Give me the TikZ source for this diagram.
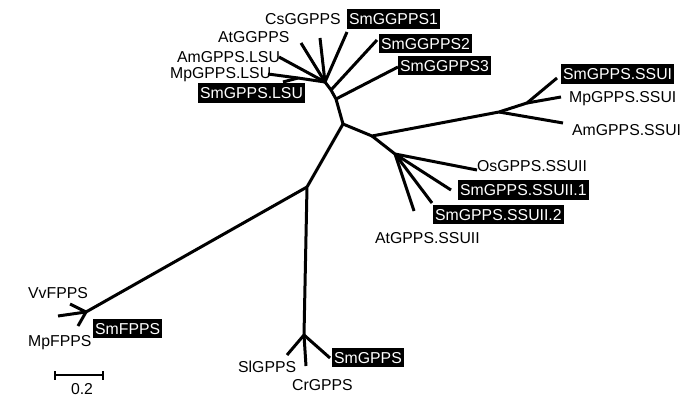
\documentclass[tikz,border=0pt]{standalone}
\usepackage{fontspec}
\setmainfont{Liberation Sans}
\begin{document}
\begin{tikzpicture}[x=1pt,y=-1pt,
  br/.style={line width=3pt,line join=round},
  lab/.style={anchor=west,inner sep=0pt,font=\fontsize{15.8}{16}\selectfont,text height=11.3pt,text depth=0pt},
  hl/.style={lab,fill=black,text=white,inner xsep=2pt,inner ysep=4.3pt}]
\useasboundingbox (0,0) rectangle (694,396);
% internal nodes
\coordinate (A) at (343,124);
\coordinate (n1) at (336,99);
\coordinate (n2) at (331,90);
\coordinate (n3) at (325,82);
\coordinate (sub) at (298,78);
\coordinate (D) at (372,136);
\coordinate (E) at (499,112);
\coordinate (F) at (527,103);
\coordinate (G) at (395,154);
\coordinate (B) at (307,187);
\coordinate (C) at (304,335);
\coordinate (H) at (86,312);
% leaves
\coordinate (lAt) at (301,43);
\coordinate (lCs) at (320,38);
\coordinate (lSm1) at (347,32);
\coordinate (lSm2) at (377,40);
\coordinate (lSm3) at (398,67);
\coordinate (lAm) at (279,57);
\coordinate (lMp) at (268,74);
\coordinate (lSmL) at (283,82);
\coordinate (lSmI) at (557,78);
\coordinate (lMpI) at (561,97);
\coordinate (lAmI) at (563,123);
\coordinate (lOs) at (477,170);
\coordinate (lS1) at (451,190);
\coordinate (lS2) at (432,203);
\coordinate (lAtII) at (414,211);
\coordinate (lSl) at (287,355);
\coordinate (lCr) at (306,366);
\coordinate (lSmG) at (330,358);
\coordinate (lF1) at (58,316);
\coordinate (lF2) at (70,304);
\coordinate (lF3) at (78,326);
% branches
\draw[br] (A) -- (n1) -- (n2) -- (n3);
\draw[br] (n1) -- (lSm3);
\draw[br] (n2) -- (lSm2);
\draw[br] (n3) -- (lSm1);
\draw[br] (n3) -- (lCs);
\draw[br] (n3) -- (lAt);
\draw[br] (n3) -- (lAm);
\draw[br] (n3) -- (sub) -- (lMp);
\draw[br] (sub) -- (lSmL);
\draw[br] (A) -- (D) -- (E) -- (F) -- (lSmI);
\draw[br] (F) -- (lMpI);
\draw[br] (E) -- (lAmI);
\draw[br] (D) -- (G) -- (lOs);
\draw[br] (G) -- (lS1);
\draw[br] (G) -- (lS2);
\draw[br] (G) -- (lAtII);
\draw[br] (A) -- (B) -- (C) -- (lSl);
\draw[br] (C) -- (lCr);
\draw[br] (C) -- (lSmG);
\draw[br] (B) -- (H) -- (lF1);
\draw[br] (H) -- (lF2);
\draw[br] (H) -- (lF3);
% labels
\node[lab] (tCs) at (265,19) {CsGGPPS};
\node[hl] (tSm1) at (347,19) {SmGGPPS1};
\node[lab] (tAt) at (218,37) {AtGGPPS};
\node[hl] (tSm2) at (379,43.5) {SmGGPPS2};
\node[lab] (tAm) at (177,57) {AmGPPS.LSU};
\node[hl] (tSm3) at (398,65.5) {SmGGPPS3};
\node[lab] (tMp) at (170,73) {MpGPPS.LSU};
\node[hl] (tSmL) at (198,93) {SmGPPS.LSU};
\node[hl] (tSmI) at (561,74) {SmGPPS.SSUI};
\node[lab] (tMpI) at (569,97) {MpGPPS.SSUI};
\node[lab] (tAmI) at (572,130) {AmGPPS.SSUI};
\node[lab] (tOs) at (477,166) {OsGPPS.SSUII};
\node[hl] (tS1) at (458,190) {SmGPPS.SSUII.1};
\node[hl] (tS2) at (433,214.5) {SmGPPS.SSUII.2};
\node[lab] (tAtII) at (375,238) {AtGPPS.SSUII};
\node[lab] (tVv) at (28,293) {VvFPPS};
\node[hl] (tSmF) at (93,328.5) {SmFPPS};
\node[lab] (tMpF) at (28,341) {MpFPPS};
\node[lab] (tSl) at (238,367) {SlGPPS};
\node[lab] (tCr) at (292,385) {CrGPPS};
\node[hl] (tSmG) at (332,357.5) {SmGPPS};
% scale bar
\coordinate (s1) at (55,375);
\coordinate (s2) at (103,375);
\draw[line width=2.6pt] (s1) -- (s2);
\draw[line width=2.6pt] ([yshift=-4.5pt]s1) -- ([yshift=4.5pt]s1);
\draw[line width=2.6pt] ([yshift=-4.5pt]s2) -- ([yshift=4.5pt]s2);
\node[lab,anchor=center] (tScale) at (82,388.5) {0.2};
\end{tikzpicture}
\end{document}
